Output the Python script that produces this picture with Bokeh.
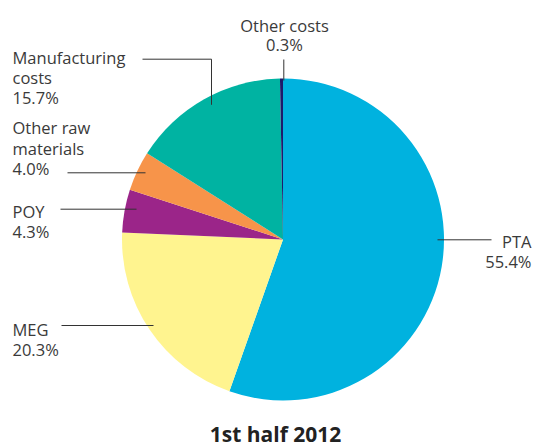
import numpy as np
from bokeh.plotting import figure
from bokeh.models import Range1d, ColumnDataSource
from bokeh.core.properties import value
from bokeh.embed import file_html
from bokeh.resources import INLINE

# ---- data ----
categories = ["PTA", "MEG", "POY", "Other raw materials", "Manufacturing costs", "Other costs"]
shares = [55.4, 20.3, 4.3, 4.0, 15.7, 0.3]
label_names = [["PTA"], ["MEG"], ["POY"], ["Other raw", "materials"], ["Manufacturing", "costs"], ["Other costs"]]
title_text = "1st half 2012"

# ---- style ----
colors = ["#00B2DF", "#FFF48F", "#9B2589", "#F7944A", "#00B3A2", "#1E1A6B"]
W, H = 536, 447
CX, CY_PX, R = 282.5, 239, 161
TEXT_COLOR = "#3a3a3a"
FONT = "Open Sans"

def fy(ypx):
    return H - ypx

# label layout: (text x, align, first line centre px, line spacing, leader polyline in px)
layout = [
    (531, "right", 241, 20, [(437, 239.3), (491, 239.3)]),
    (12, "left", 329, 20.3, [(61, 325), (153, 325)]),
    (12, "left", 211, 20.3, [(60, 208.7), (136, 208.7)]),
    (12, "left", 127.3, 20.3, [(67, 172.3), (145, 172.3)]),
    (12, "left", 57.3, 19.6, [(142, 58.7), (211, 58.7), (211, 104.3)]),
    (284, "center", 24.7, 19.5, [(283.3, 59), (283.3, 80)]),
]

p = figure(width=W, height=H, x_range=Range1d(0, W), y_range=Range1d(0, H),
           output_backend="svg", toolbar_location=None, min_border=0)
p.min_border_left = p.min_border_right = p.min_border_top = p.min_border_bottom = 0
p.axis.visible = False
p.grid.visible = False
p.outline_line_color = None
p.background_fill_color = "white"
p.border_fill_color = "white"

# wedges, clockwise from top
total = float(sum(shares))
cum = np.concatenate([[0.0], np.cumsum(shares)]) / total
start = np.pi / 2 - cum[1:] * 2 * np.pi
end = np.pi / 2 - cum[:-1] * 2 * np.pi
wsrc = ColumnDataSource(dict(start=start, end=end, color=colors, cat=categories))
p.wedge(x=CX, y=fy(CY_PX), radius=R, start_angle="start", end_angle="end",
        direction="anticlock", fill_color="color", line_color=None, source=wsrc)

# leader lines
for lay in layout:
    pts = lay[4]
    p.line([q[0] for q in pts], [fy(q[1]) for q in pts], line_color="#333333", line_width=1)

# labels
tx, ty, tt, ta = [], [], [], []
for names, share, lay in zip(label_names, shares, layout):
    x, align, base, sp = lay[0], lay[1], lay[2], lay[3]
    lines = names + [f"{share:.1f}%"]
    for i, s in enumerate(lines):
        tx.append(x)
        ty.append(fy(base + i * sp))
        tt.append(s)
        ta.append(align)
tsrc = ColumnDataSource(dict(x=tx, y=ty, text=tt, align=ta))
p.text(x="x", y="y", text="text", text_align="align", text_baseline="middle",
       text_font=value(FONT), text_font_size="16.5px", text_color=TEXT_COLOR, source=tsrc)

# title
p.text(x=[275], y=[fy(433.5)], text=[title_text], text_align="center", text_baseline="middle",
       text_font=value(FONT), text_font_style="bold", text_font_size="21px", text_color="#222222")

open("out.html", "w").write(file_html(p, INLINE))
